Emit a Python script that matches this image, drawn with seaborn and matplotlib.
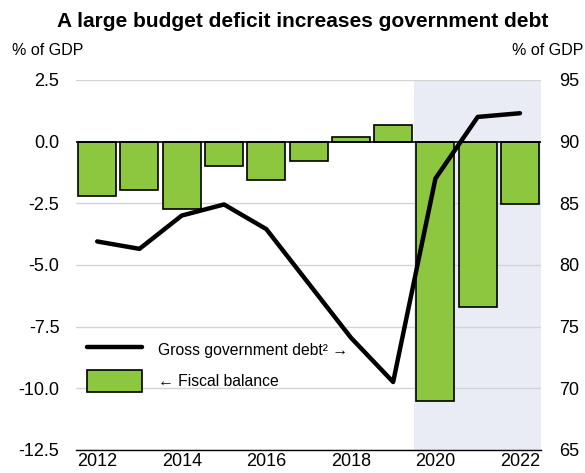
import matplotlib
matplotlib.use("Agg")
import matplotlib.pyplot as plt
import seaborn as sns
import pandas as pd
from matplotlib.lines import Line2D
from matplotlib.patches import Patch

years = [2012, 2013, 2014, 2015, 2016, 2017, 2018, 2019, 2020, 2021, 2022]
fiscal_balance = [-2.2, -1.95, -2.75, -1.0, -1.55, -0.8, 0.17, 0.68, -10.5, -6.7, -2.55]
gross_debt = [81.9, 81.3, 84.0, 84.9, 82.9, 78.5, 74.1, 70.5, 87.0, 92.0, 92.3]
left_ticks = [2.5, 0.0, -2.5, -5.0, -7.5, -10.0, -12.5]
right_ticks = [95, 90, 85, 80, 75, 70, 65]
xlabel_years = [2012, 2014, 2016, 2018, 2020, 2022]

sns.set_style("white")
plt.rcParams['font.family'] = ['Liberation Sans', 'DejaVu Sans']
plt.rcParams['text.color'] = 'black'
plt.rcParams['xtick.color'] = 'black'
plt.rcParams['ytick.color'] = 'black'

df = pd.DataFrame({"year": years, "fiscal": fiscal_balance, "debt": gross_debt})

fig = plt.figure(figsize=(5.85, 4.73), dpi=100)
ax = fig.add_axes([0.130, 0.049, 0.795, 0.782])

ax.axvspan(2019.5, 2022.5, color="#e9ecf5", zorder=0, lw=0)
for t in left_ticks:
    if t != 0:
        ax.axhline(t, color="#d4d4d4", lw=1, zorder=0.5)

sns.barplot(data=df, x="year", y="fiscal", native_scale=True, color="#8dc63f",
            width=0.9, edgecolor="black", linewidth=1.2, saturation=1, ax=ax, zorder=2)
ax.axhline(0, color="black", lw=1.2, zorder=3)

ax.set_xlim(2011.5, 2022.5)
ax.set_ylim(-12.5, 2.5)
ax.set_yticks(left_ticks)
ax.set_yticklabels([f"{t:.1f}" for t in left_ticks])
ax.set_xticks([y + 0.5 for y in [2011] + years])
ax.set_xticklabels([])
ax.set_xticks(xlabel_years, minor=True)
ax.set_xticklabels([str(y) for y in xlabel_years], minor=True)
ax.tick_params(axis="x", which="major", direction="in", length=7, width=1, color="black")
ax.tick_params(axis="x", which="minor", length=0, labelsize=13, pad=2)
ax.tick_params(axis="y", length=0, labelsize=13, pad=12)
ax.set_xlabel("")
ax.set_ylabel("")
for s in ["top", "left", "right"]:
    ax.spines[s].set_visible(False)
ax.spines["bottom"].set_color("black")
ax.spines["bottom"].set_linewidth(1)

ax2 = ax.twinx()
sns.lineplot(data=df, x="year", y="debt", color="black", lw=3.2, ax=ax2, zorder=5)
ax2.set_ylim(65, 95)
ax2.set_yticks(right_ticks)
ax2.tick_params(axis="y", length=0, labelsize=13, pad=13)
ax2.set_xlim(2011.5, 2022.5)
ax2.set_ylabel("")
ax2.set_xlabel("")
for s in ["top", "left", "right", "bottom"]:
    ax2.spines[s].set_visible(False)

handles = [Line2D([0], [0], color="black", lw=3.2),
           Patch(facecolor="#8dc63f", edgecolor="black", linewidth=1.2)]
labels = ["Gross government debt\u00b2 \u2192", "\u2190 Fiscal balance"]
ax2.legend(handles, labels, loc="upper left", bbox_to_anchor=(0.0, 0.33),
           frameon=False, fontsize=11.3, handlelength=3.5, handleheight=1.8,
           labelspacing=0.55, handletextpad=1.0, borderaxespad=0.3)

fig.text(0.518, 0.955, "A large budget deficit increases government debt",
         ha="center", va="center", fontsize=15, fontweight="bold")
fig.text(0.02, 0.893, "% of GDP", ha="left", va="center", fontsize=11.5)
fig.text(0.997, 0.893, "% of GDP", ha="right", va="center", fontsize=11.5)

fig.savefig("out.png", dpi=100)
